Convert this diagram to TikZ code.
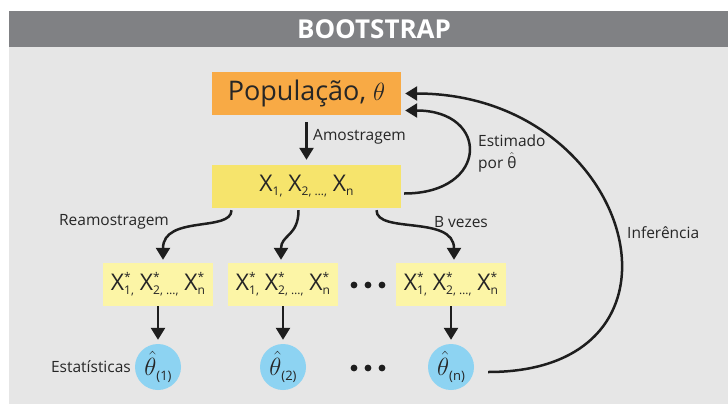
\documentclass[tikz,border=0pt]{standalone}
\usepackage{fontspec}
\setmainfont{Open Sans}
\usepackage{tikz}
\usetikzlibrary{calc,arrows.meta}
\definecolor{barc}{HTML}{808184}
\definecolor{panelc}{HTML}{E6E6E6}
\definecolor{popc}{HTML}{F8AA45}
\definecolor{samc}{HTML}{F6E46C}
\definecolor{resc}{HTML}{FCF5A6}
\definecolor{estc}{HTML}{8DD3F2}
\definecolor{linec}{HTML}{1E1E1E}
\definecolor{txtc}{HTML}{262626}
% small lowered index, X with index, and X* with index
\newcommand{\lo}[1]{\raisebox{-4pt}{\fontsize{12}{12}\selectfont#1}}
\newcommand{\xs}[1]{X\lo{#1}}
\newcommand{\xr}[1]{X\rlap{\raisebox{9pt}{\fontsize{12}{12}\selectfont*}}\lo{#1}}
\newcommand{\idx}[1]{\raisebox{-5pt}{\fontsize{13}{14}\selectfont(#1)}}
\tikzset{
  ar/.style={-{Triangle[length=12pt,width=14pt]},line width=2.5pt,linec},
  box/.style={rectangle,minimum height=43pt,inner sep=0pt,align=center,text=txtc},
  est/.style={circle,fill=estc,minimum size=46pt,inner sep=0pt,text=txtc},
  lbl/.style={font=\fontsize{15.5}{22}\selectfont,text=txtc,inner sep=0pt}
}
\begin{document}
\begin{tikzpicture}[x=1pt,y=-1pt]
\useasboundingbox (0,0) rectangle (728,405);
\fill[panelc] (9,11) rectangle (728,404);
\fill[barc] (9,11) rectangle (728,47);
\node[font=\fontsize{26}{30}\selectfont\bfseries,text=white] (title) at (374,29) {BOOTSTRAP};
% population and sample
\node[box,fill=popc,minimum width=189pt,font=\fontsize{27}{30}\selectfont] (pop) at (306.5,93.5) {População, $\theta$};
\node[box,fill=samc,minimum width=189pt,font=\fontsize{23}{25}\selectfont] (xs) at (306.5,186.5) {\xs{1,} \xs{2, \ldots,} \xs{n}};
% bootstrap samples and their statistics
\foreach \i/\x/\s in {1/158/1,2/283/2,3/451/n}{
  \node[box,fill=resc,minimum width=110pt,font=\fontsize{23}{25}\selectfont] (r\i) at (\x,284.5) {\xr{1,} \xr{2, \ldots,} \xr{n}};
  \node[est,font=\fontsize{29}{30}\selectfont] (e\i) at (\x,367) {$\hat{\theta}$\idx{\s}};
  \draw[ar,shorten >=4pt] (r\i.south) -- (e\i.north);
}
\foreach \x in {354,368,382}{
  \fill[linec] (\x,285) circle (3.4);
  \fill[linec] (\x,368) circle (3.4);
}
\draw[ar,shorten <=7pt,shorten >=5pt] (pop) -- (xs);
\draw[ar,shorten >=3pt] ($(xs.south)+(-75,2)$) .. controls +(0,22) and +(0,-48) .. ($(r1.north)+(5,0)$);
\draw[ar,shorten >=3pt] ($(xs.south)+(-8,2)$) .. controls +(0,26) and +(0,-28) .. ($(r2.north)+(-2,0)$);
\draw[ar,shorten >=3pt] ($(xs.south)+(70,2)$) .. controls +(0,24) and +(0,-48) .. ($(r3.north)+(3,0)$);
\draw[ar] ($(xs.east)+(3,7)$) .. controls +(85,0) and +(85,0) .. ($(pop.east)+(4,17)$);
\draw[ar] ($(e3.east)+(14,5)$) .. controls +(222,0) and +(230,0) .. ($(pop.east)+(4,0)$);
% labels
\node[lbl,anchor=west] (amo) at (313,137) {Amostragem};
\node[lbl,anchor=west,align=left] (esti) at (478,153) {Estimado\\por $\hat{\mbox{θ}}$};
\node[lbl,anchor=west] (inf) at (627,233) {Inferência};
\node[lbl] (rea) at (114,222) {Reamostragem};
\node[lbl] (bvz) at (461,222) {B vezes};
\node[lbl,anchor=east] (sta) at (131,367) {Estatísticas};
\end{tikzpicture}
\end{document}
